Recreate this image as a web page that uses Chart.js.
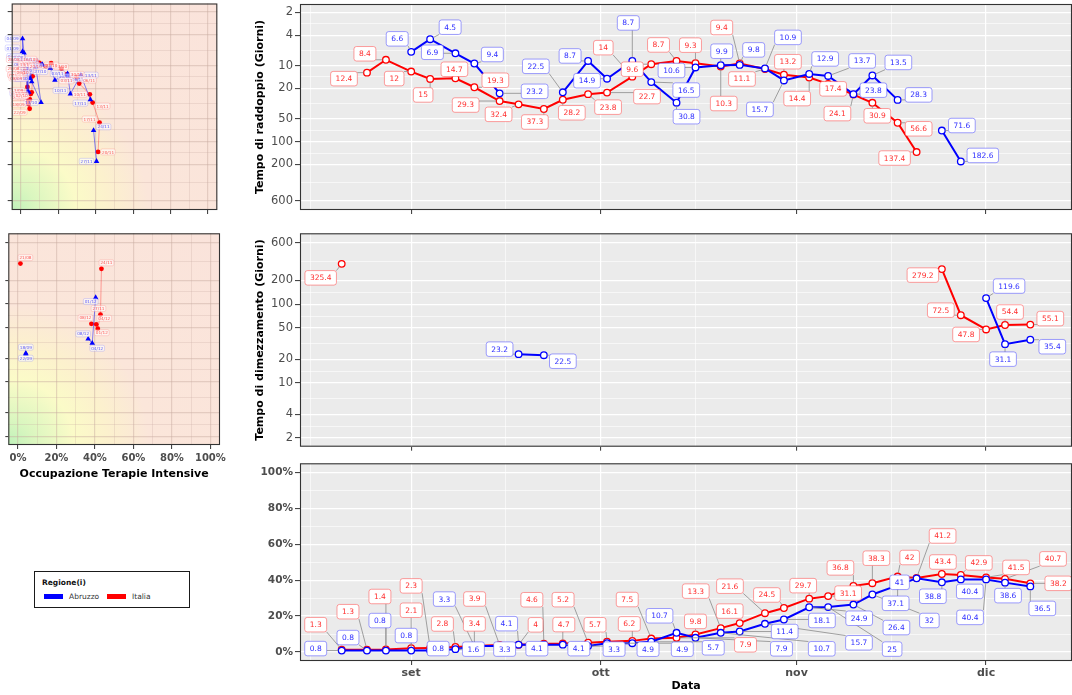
<!DOCTYPE html>
<html>
<head>
<meta charset="utf-8">
<script src="https://cdn.jsdelivr.net/npm/chart.js@4.4.1/dist/chart.umd.min.js"></script>
<style>
  html, body { margin: 0; padding: 0; background: #fff; width: 1072px; height: 695px; overflow: hidden; position: relative; font-family: 'DejaVu Sans', sans-serif; }
  canvas { position: absolute; }
  #legend { position: absolute; left: 34px; top: 571px; width: 156px; height: 37px; border: 1.3px solid #1a1a1a; box-sizing: border-box; background: #fff; }
  #legend div { position: absolute; line-height: 1; white-space: nowrap; }
  .key { width: 19px; height: 5px; }
</style>
</head>
<body>
<div id="legend">
  <div style="left:7px;top:7px;font-size:7.5px;font-weight:bold;color:#111">Regione(i)</div>
  <div class="key" style="left:9px;top:21.5px;background:#0000ff"></div>
  <div style="left:34px;top:20.5px;font-size:7.5px;color:#333">Abruzzo</div>
  <div class="key" style="left:72px;top:21.5px;background:#ff0000"></div>
  <div style="left:97px;top:20.5px;font-size:7.5px;color:#333">Italia</div>
</div>
<script>
// ---- readings: twice a week (Tuesday / Friday), 2020 ----
const dates = ['2020-08-21','2020-08-25','2020-08-28','2020-09-01','2020-09-04','2020-09-08','2020-09-11','2020-09-15',
               '2020-09-18','2020-09-22','2020-09-25','2020-09-29','2020-10-02','2020-10-06','2020-10-09','2020-10-13',
               '2020-10-16','2020-10-20','2020-10-23','2020-10-27','2020-10-30','2020-11-03','2020-11-06','2020-11-10',
               '2020-11-13','2020-11-17','2020-11-20','2020-11-24','2020-11-27','2020-12-01','2020-12-04','2020-12-08'];

// doubling time (days) — only while cases grow
const doublingItalia  = [null, 12.4, 8.4, 12, 15, 14.7, 19.3, 29.3, 32.4, 37.3, 28.2, 23.8, 22.7, 14, 9.6, 8.7,
                         9.3, 10.3, 9.4, 11.1, 13.2, 14.4, 17.4, 24.1, 30.9, 56.6, 137.4, null, null, null, null, null];
const doublingAbruzzo = [null, null, null, 6.6, 4.5, 6.9, 9.4, 23.2, null, null, 22.5, 8.7, 14.9, 8.7, 16.5, 30.8,
                         10.6, 9.9, 9.8, 10.9, 15.7, 12.9, 13.7, 23.8, 13.5, 28.3, null, 71.6, 182.6, null, null, null];

// halving time (days) — only while cases shrink
const halvingItalia   = [325.4, null, null, null, null, null, null, null, null, null, null, null, null, null, null, null,
                         null, null, null, null, null, null, null, null, null, null, null, 279.2, 72.5, 47.8, 54.4, 55.1];
const halvingAbruzzo  = [null, null, null, null, null, null, null, null, 23.2, 22.5, null, null, null, null, null, null,
                         null, null, null, null, null, null, null, null, null, null, null, null, null, 119.6, 31.1, 35.4];

// ICU occupancy (%)
const icuItalia  = [1.3, 1.3, 1.4, 2.1, 2.3, 2.8, 3.4, 3.9, 4, 4.6, 4.7, 5.2, 5.7, 6.2, 7.5, 7.9,
                    9.8, 13.3, 16.1, 21.6, 24.5, 29.7, 31.1, 36.8, 38.3, 42, 41.2, 43.4, 42.9, 41.5, 40.7, 38.2];
const icuAbruzzo = [0.8, 0.8, 0.8, 0.8, 0.8, 1.6, 3.3, 3.3, 4.1, 4.1, 4.1, 3.3, 4.9, 4.9, 5.7, 10.7,
                    7.9, 10.7, 11.4, 15.7, 18.1, 24.9, 25, 26.4, 32, 37.1, 41, 38.8, 40.4, 40.4, 38.6, 36.5];

// axis breaks and labels
const monthTicks  = ['2020-09-01', '2020-10-01', '2020-11-01', '2020-12-01'];
const monthLabels = ['set', 'ott', 'nov', 'dic'];
const midMonth    = ['2020-08-16', '2020-09-16', '2020-10-16', '2020-11-16'];
const dayBreaks   = [2, 4, 10, 20, 50, 100, 200, 600];
const pctBreaks   = [0, 20, 40, 60, 80, 100];

// ---- label placement (pixel nudges, one per drawn label, in date order) ----
const nudgeDblIta = [[-23,6],[-21,-6],[-17,7],[-7,16],[-1,-9],[21,-7],[-34,4],[-20,10],[-9,13],[9,13],[20,13],[40,4],[-29,-29],
                     [-19,5],[-18,-16],[-5,-18],[3,37],[-18,-36],[-23,10],[4,-13],[-12,21],[5,5],[-16,19],[5,13],[21,6],[-22,6]];
const nudgeDblAbr = [[-14,-13],[20,-12],[-23,-1],[18,-9],[35,-2],[-27,-26],[-18,-5],[-20,2],[-4,-38],[35,8],[10,14],[-24,3],
                     [1,-14],[14,-15],[23,-31],[-24,29],[16,-15],[34,-15],[20,-4],[26,-13],[21,-5],[20,-5],[22,-6]];
const nudgeHlvIta = [[-21,14],[-19,6],[-20,-5],[-20,5],[5,-13],[20,-6]];
const nudgeHlvAbr = [[-19,-5],[19,6],[23,-12],[-2,15],[22,7]];
const nudgeIcuIta = [[-26,-25],[-19,-38],[-6,-53],[0,-38],[-19,-62],[-13,-23],[0,-22],[-25,-46],[17,-20],[-12,-44],[1,-19],
                     [-25,-43],[-12,-17],[-3,-17],[-24,-39],[69,7],[0,-13],[-25,-37],[-10,-12],[-35,-27],[-17,-13],[-6,-13],
                     [20,-3],[-13,-18],[4,-25],[12,-19],[26,-42],[1,-12],[18,-12],[30,-10],[48,-20],[28,0]];
const nudgeIcuAbr = [[-26,-2],[-19,-13],[-6,-30],[-5,-15],[8,-2],[18,0],[-30,-47],[5,3],[-12,-21],[-7,4],[16,4],[26,3],
                     [41,6],[50,6],[62,6],[-17,-17],[86,11],[101,16],[45,0],[94,19],[38,1],[50,11],[64,42],[43,23],[57,26],
                     [-2,18],[-17,4],[-9,14],[9,12],[-16,38],[3,13],[12,22]];
const nudgeMapHlvIta = [[5,-6],[5,-6],[-2,-6],[4,4],[8,-6],[-6,-6]];
const nudgeMapHlvAbr = [[0,-6],[0,4],[-5,4],[5,5],[-5,-5]];

// ---- helpers ----
Chart.defaults.font.family = "'DejaVu Sans', sans-serif";
const DAY = 86400000, T0 = Date.UTC(2020, 8, 1);
const dayOf = s => { const [y, m, d] = s.split('-').map(Number); return Math.round((Date.UTC(y, m - 1, d) - T0) / DAY); };
const X = dates.map(dayOf);
const monthVals = monthTicks.map(dayOf);
const midVals = midMonth.map(dayOf);
const X_MIN = -17.6, X_MAX = 104.6;
const LOG_MIN = 1.55, LOG_MAX = 795;
const dayMinor = dayBreaks.slice(1).map((v, i) => Math.sqrt(v * dayBreaks[i]));
const pctMinor = pctBreaks.slice(1).map((v, i) => (v + pctBreaks[i]) / 2);
const TICK_INK = '#4D4D4D';
const INK = {
  abr: { line: '#0000ff', text: '#2f2fff', border: 'rgba(80,80,255,0.55)', path: 'rgba(30,30,255,0.6)', tag: 'rgba(60,60,255,0.85)', tagBorder: 'rgba(90,90,255,0.35)' },
  ita: { line: '#ff0000', text: '#ff2f2f', border: 'rgba(255,80,80,0.55)', path: 'rgba(255,40,40,0.45)', tag: 'rgba(255,60,60,0.85)', tagBorder: 'rgba(255,90,90,0.35)' }
};

const series = vals => vals.map((v, i) => ({ x: X[i], y: v }));
const track = (xs, ys) => xs.map((x, i) => ({ x: x, y: ys[i] }));
const dayMonth = i => dates[i].slice(8, 10) + '/' + dates[i].slice(5, 7);

function canvasAt(left, top, w, h) {
  const c = document.createElement('canvas');
  c.width = w; c.height = h;
  c.style.left = left + 'px'; c.style.top = top + 'px';
  c.style.width = w + 'px'; c.style.height = h + 'px';
  document.body.appendChild(c);
  return c;
}

function withMinor(major, minor) {
  return s => { s.ticks = major.concat(minor).sort((a, b) => a - b).map(v => ({ value: v })); };
}
function fixSize(w, h) {
  return s => {
    if (w != null) s.width = w;
    if (h != null) s.height = h;
    s.paddingLeft = 0; s.paddingRight = 0; s.paddingTop = 0; s.paddingBottom = 0;
  };
}
function gridOpts(minor, color, tickLen) {
  const isMinor = c => !!(c.tick && minor.includes(c.tick.value));
  return {
    color: color,
    lineWidth: c => isMinor(c) ? 0.6 : 1.2,
    tickColor: c => isMinor(c) ? 'rgba(0,0,0,0)' : '#333333',
    tickWidth: 1,
    tickLength: tickLen,
    drawTicks: true
  };
}
function axisTitle(text, pad) {
  return text ? { display: true, text: text, color: '#000', font: { size: 11, weight: 'bold' }, padding: pad || { top: 4, bottom: 4 } } : { display: false };
}

function timeAxis(showLabels, height) {
  return {
    type: 'linear', min: X_MIN, max: X_MAX,
    afterBuildTicks: withMinor(monthVals, midVals),
    afterFit: fixSize(null, height),
    ticks: {
      autoSkip: false, maxRotation: 0, padding: 2, color: TICK_INK, font: { size: 11, weight: 'bold' },
      callback: v => { const k = monthVals.indexOf(v); return (showLabels && k >= 0) ? monthLabels[k] : ''; }
    },
    grid: gridOpts(midVals, '#ffffff', 4),
    border: { display: false },
    title: axisTitle(showLabels ? 'Data' : null, { top: 2, bottom: 2.5 })
  };
}
function dayAxis(o) {
  return {
    type: 'logarithmic', min: LOG_MIN, max: LOG_MAX, reverse: !!o.reverse,
    afterBuildTicks: withMinor(dayBreaks, dayMinor),
    afterFit: fixSize(o.width, null),
    ticks: {
      autoSkip: false, padding: 2, color: TICK_INK, font: { size: 11.5 },
      callback: v => (o.labels && dayBreaks.includes(v)) ? String(v) : ''
    },
    grid: gridOpts(dayMinor, o.grid, o.tickLen),
    border: { display: false },
    title: axisTitle(o.title)
  };
}
function pctAxis(o) {
  return {
    type: 'linear', min: -5, max: 105,
    afterBuildTicks: withMinor(pctBreaks, pctMinor),
    afterFit: fixSize(o.width, o.height),
    ticks: {
      autoSkip: false, maxRotation: 0, padding: o.pad || 2, color: TICK_INK, font: { size: o.size || 10.5, weight: 'bold' },
      callback: v => (o.labels && pctBreaks.includes(v)) ? v + '%' : ''
    },
    grid: gridOpts(pctMinor, o.grid, o.tickLen),
    border: { display: false },
    title: axisTitle(o.title, { top: 2, bottom: 4 })
  };
}

function roundRect(ctx, x, y, w, h, r) {
  ctx.beginPath();
  ctx.moveTo(x + r, y);
  ctx.arcTo(x + w, y, x + w, y + h, r);
  ctx.arcTo(x + w, y + h, x, y + h, r);
  ctx.arcTo(x, y + h, x, y, r);
  ctx.arcTo(x, y, x + w, y, r);
  ctx.closePath();
}

// panel background fill
function panelFill(paint) {
  return {
    id: 'panelFill',
    beforeDraw(chart) {
      const { ctx, chartArea: a } = chart;
      ctx.save();
      ctx.fillStyle = paint(ctx, a);
      ctx.fillRect(a.left, a.top, a.right - a.left, a.bottom - a.top);
      ctx.restore();
    }
  };
}
// frame around the panel
const panelFrame = {
  id: 'panelFrame',
  afterDraw(chart) {
    const { ctx, chartArea: a } = chart;
    ctx.save();
    ctx.strokeStyle = '#333333';
    ctx.lineWidth = 1.1;
    ctx.strokeRect(a.left + 0.5, a.top + 0.5, a.right - a.left - 1, a.bottom - a.top - 1);
    ctx.restore();
  }
};
// repelled text boxes with leader segments
function boxLabels(style) {
  return {
    id: 'boxLabels',
    afterDatasetsDraw(chart) {
      const ctx = chart.ctx;
      const items = [];
      chart.data.datasets.forEach((ds, di) => {
        if (!ds.nudges) return;
        const meta = chart.getDatasetMeta(di);
        let k = 0;
        ds.data.forEach((d, i) => {
          if (d.y == null) return;
          const el = meta.data[i];
          const o = ds.nudges(k, i, d);
          k++;
          items.push({ px: el.x, py: el.y, cx: el.x + o[0], cy: el.y + o[1], text: ds.tagText(i, d), ink: ds.ink });
        });
      });
      ctx.save();
      ctx.font = style.font;
      items.forEach(it => { it.w = ctx.measureText(it.text).width + 2 * style.padX; it.h = style.size + 2 * style.padY; });
      ctx.strokeStyle = style.segColor;
      ctx.lineWidth = style.segWidth;
      items.forEach(it => {
        const l = it.cx - it.w / 2, r = it.cx + it.w / 2, t = it.cy - it.h / 2, b = it.cy + it.h / 2;
        const qx = Math.min(Math.max(it.px, l), r), qy = Math.min(Math.max(it.py, t), b);
        const dist = Math.hypot(qx - it.px, qy - it.py);
        if (dist > style.minSeg) {
          const f = style.gap / dist;
          ctx.beginPath();
          ctx.moveTo(it.px + (qx - it.px) * f, it.py + (qy - it.py) * f);
          ctx.lineTo(qx, qy);
          ctx.stroke();
        }
      });
      ctx.textAlign = 'center';
      ctx.textBaseline = 'middle';
      items.forEach(it => {
        roundRect(ctx, it.cx - it.w / 2, it.cy - it.h / 2, it.w, it.h, style.radius);
        ctx.fillStyle = style.fill;
        ctx.fill();
        ctx.strokeStyle = style.small ? it.ink.tagBorder : it.ink.border;
        ctx.lineWidth = style.borderWidth;
        ctx.stroke();
        ctx.fillStyle = style.small ? it.ink.tag : it.ink.text;
        ctx.fillText(it.text, it.cx, it.cy + 0.5);
      });
      ctx.restore();
    }
  };
}

const valueStyle = { font: "7.5px 'DejaVu Sans'", size: 7.5, padX: 5, padY: 3.5, radius: 2.5, fill: '#ffffff', borderWidth: 1,
                     segColor: 'rgba(140,140,140,0.9)', segWidth: 0.9, minSeg: 5, gap: 3.5 };
const tagStyle = { font: "4.2px 'DejaVu Sans'", size: 4.2, padX: 1.3, padY: 0.9, radius: 1.5, fill: 'rgba(255,255,255,0.6)', borderWidth: 0.6,
                   segColor: 'rgba(130,130,130,0.55)', segWidth: 0.5, minSeg: 3, gap: 2, small: true };

const grayPanel = panelFill(() => '#EBEBEB');
const heatPanel = panelFill((ctx, a) => {
  const r = Math.hypot(a.right - a.left, a.bottom - a.top);
  const g = ctx.createRadialGradient(a.left, a.bottom, 0, a.left, a.bottom, r);
  g.addColorStop(0.00, '#bff2ba');
  g.addColorStop(0.08, '#d9f6bf');
  g.addColorStop(0.22, '#fbfbc8');
  g.addColorStop(0.33, '#fcf1cd');
  g.addColorStop(0.47, '#fbe6da');
  g.addColorStop(1.00, '#fae3db');
  return g;
});
const HEAT_GRID = 'rgba(200,170,160,0.45)';

function lineSet(vals, ink, nudges) {
  return {
    data: series(vals), borderColor: ink.line, borderWidth: 2, tension: 0, spanGaps: false,
    pointRadius: 3.3, pointBackgroundColor: '#ffffff', pointBorderColor: ink.line, pointBorderWidth: 1.3,
    ink: ink, nudges: k => nudges[k] || [0, -12], tagText: (i, d) => String(d.y)
  };
}
function trackSet(icu, vals, ink, shape, nudgeFn) {
  return {
    data: track(icu, vals), borderColor: ink.path, borderWidth: 0.9, tension: 0, spanGaps: false,
    pointStyle: shape, pointRadius: shape === 'triangle' ? 3.2 : 2.4,
    pointBackgroundColor: ink.line, pointBorderColor: ink.line, pointBorderWidth: 0,
    ink: ink, nudges: nudgeFn, tagText: i => dayMonth(i)
  };
}
function baseOptions(pad, scales) {
  return {
    responsive: false, animation: false, devicePixelRatio: 1, events: [],
    layout: { autoPadding: false, padding: Object.assign({ left: 0, right: 0, top: 0, bottom: 0 }, pad) },
    plugins: { legend: { display: false }, tooltip: { enabled: false } },
    scales: scales
  };
}

// ---- right column: doubling time ----
new Chart(canvasAt(250, 0, 822, 222), {
  type: 'line',
  data: { datasets: [lineSet(doublingAbruzzo, INK.abr, nudgeDblAbr), lineSet(doublingItalia, INK.ita, nudgeDblIta)] },
  options: baseOptions({ top: 4 }, {
    x: timeAxis(false, 12),
    y: dayAxis({ reverse: true, labels: true, width: 50, grid: '#ffffff', tickLen: 5, title: 'Tempo di raddoppio (Giorni)' })
  }),
  plugins: [grayPanel, boxLabels(valueStyle), panelFrame]
});

// ---- right column: halving time ----
new Chart(canvasAt(250, 222, 822, 235), {
  type: 'line',
  data: { datasets: [lineSet(halvingAbruzzo, INK.abr, nudgeHlvAbr), lineSet(halvingItalia, INK.ita, nudgeHlvIta)] },
  options: baseOptions({ top: 11.3 }, {
    x: timeAxis(false, 10.3),
    y: dayAxis({ reverse: false, labels: true, width: 50, grid: '#ffffff', tickLen: 5, title: 'Tempo di dimezzamento (Giorni)' })
  }),
  plugins: [grayPanel, boxLabels(valueStyle), panelFrame]
});

// ---- right column: ICU occupancy over time ----
new Chart(canvasAt(250, 457, 822, 238), {
  type: 'line',
  data: { datasets: [lineSet(icuAbruzzo, INK.abr, nudgeIcuAbr), lineSet(icuItalia, INK.ita, nudgeIcuIta)] },
  options: baseOptions({ top: 6.3 }, {
    x: timeAxis(true, 34),
    y: pctAxis({ labels: true, width: 50, grid: '#ffffff', tickLen: 5, size: 10.5 })
  }),
  plugins: [grayPanel, boxLabels(valueStyle), panelFrame]
});

// ---- left column: occupancy vs doubling / halving ----
const mapNudge = (k, i, d) => {
  const left = d.x < 12 || k % 2 === 0;
  return [left ? -10 : 10, ((k % 3) - 1) * 3.5];
};
new Chart(canvasAt(0, 0, 230, 222), {
  type: 'line',
  data: { datasets: [
    trackSet(icuAbruzzo, doublingAbruzzo, INK.abr, 'triangle', mapNudge),
    trackSet(icuItalia, doublingItalia, INK.ita, 'circle', mapNudge)
  ] },
  options: baseOptions({ top: 3.5, right: 12.7 }, {
    x: pctAxis({ labels: false, height: 12, grid: HEAT_GRID, tickLen: 4 }),
    y: dayAxis({ reverse: true, labels: false, width: 11.7, grid: HEAT_GRID, tickLen: 4 })
  }),
  plugins: [heatPanel, boxLabels(tagStyle), panelFrame]
});

new Chart(canvasAt(0, 222, 230, 263), {
  type: 'line',
  data: { datasets: [
    trackSet(icuAbruzzo, halvingAbruzzo, INK.abr, 'triangle', k => nudgeMapHlvAbr[k] || [0, -6]),
    trackSet(icuItalia, halvingItalia, INK.ita, 'circle', k => nudgeMapHlvIta[k] || [0, -6])
  ] },
  options: baseOptions({ top: 11.3, right: 10 }, {
    x: pctAxis({ labels: true, height: 40, grid: HEAT_GRID, tickLen: 4, size: 10, pad: 3, title: 'Occupazione Terapie Intensive' }),
    y: dayAxis({ reverse: false, labels: false, width: 8.3, grid: HEAT_GRID, tickLen: 3 })
  }),
  plugins: [heatPanel, boxLabels(tagStyle), panelFrame]
});
</script>
</body>
</html>
